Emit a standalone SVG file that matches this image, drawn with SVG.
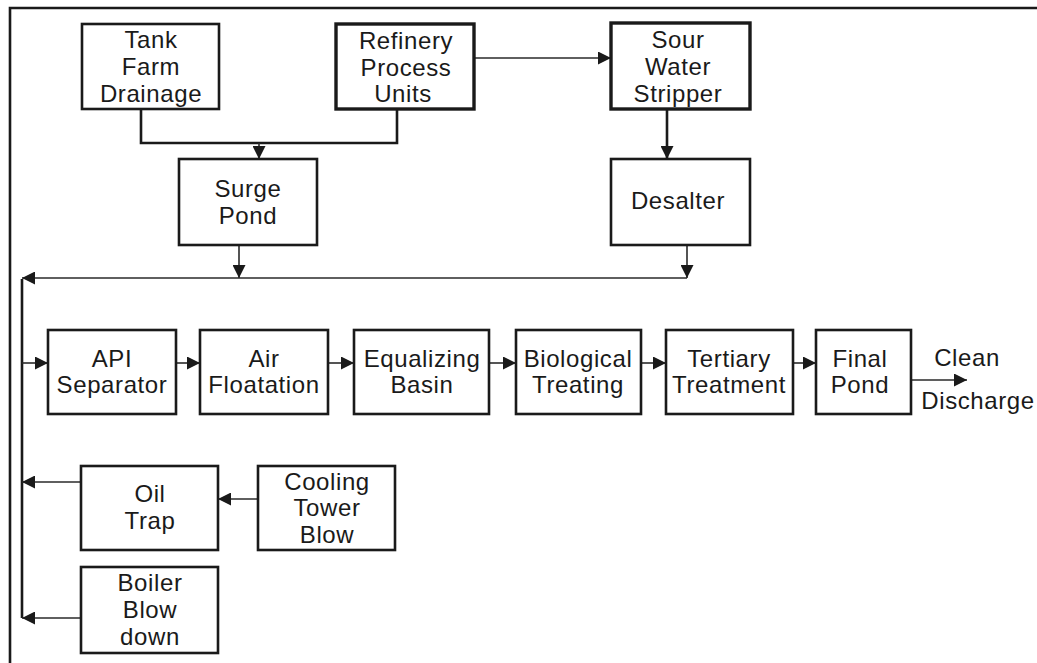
<svg xmlns="http://www.w3.org/2000/svg" width="1037" height="663" viewBox="0 0 1037 663">
<defs>
<style>
.box{fill:#fff;stroke:#1a1a1a;stroke-width:2.6}
.thick{stroke-width:3.4}
.t{font-family:"Liberation Sans",Arial,sans-serif;font-size:24px;letter-spacing:0.6px;fill:#1a1a1a;text-anchor:middle}
.c{fill:none;stroke:#2a2a2a;stroke-width:1.6}
.cb{fill:none;stroke:#1a1a1a;stroke-width:2.6}
</style>
<marker id="ah" viewBox="0 0 10 10" refX="10" refY="5" markerWidth="13" markerHeight="13" markerUnits="userSpaceOnUse" orient="auto">
<path d="M0,0 L10,5 L0,10 Z" fill="#1a1a1a"/>
</marker>
</defs>
<rect width="1037" height="663" fill="#fff"/>
<g id="frame">
<path d="M10,663 L10,8 L1037,8" fill="none" stroke="#1a1a1a" stroke-width="2.6"/>
</g>
<g id="connectors">
<path class="cb" d="M141,109 V143 H397 V109"/>
<path class="c" d="M259,143 V159" marker-end="url(#ah)"/>
<path class="c" d="M474,58 H611" marker-end="url(#ah)"/>
<path class="cb" d="M667,109 V159" marker-end="url(#ah)"/>
<path class="c" d="M239,245 V278" marker-end="url(#ah)"/>
<path class="c" d="M687,245 V278" marker-end="url(#ah)"/>
<path class="c" d="M687,278 H22" marker-end="url(#ah)"/>
<path class="cb" d="M22,279 V618"/>
<path class="c" d="M22,363 H48" marker-end="url(#ah)"/>
<path class="c" d="M176,363 H200" marker-end="url(#ah)"/>
<path class="c" d="M328,363 H354" marker-end="url(#ah)"/>
<path class="c" d="M489,363 H516" marker-end="url(#ah)"/>
<path class="c" d="M641,363 H666" marker-end="url(#ah)"/>
<path class="c" d="M793,363 H816" marker-end="url(#ah)"/>
<path class="c" d="M911,380 H967" marker-end="url(#ah)"/>
<path class="c" d="M258,499 H218" marker-end="url(#ah)"/>
<path class="c" d="M81,482 H22" marker-end="url(#ah)"/>
<path class="c" d="M81,618 H22" marker-end="url(#ah)"/>
</g>
<g id="tank-farm">
<rect class="box" x="82" y="24" width="137" height="85"/>
<text class="t" x="151" y="48">Tank</text>
<text class="t" x="151" y="75">Farm</text>
<text class="t" x="151" y="102">Drainage</text>
</g>
<g id="refinery">
<rect class="box thick" x="336" y="24" width="138" height="85"/>
<text class="t" x="406" y="49">Refinery</text>
<text class="t" x="406" y="76">Process</text>
<text class="t" x="403" y="102">Units</text>
</g>
<g id="sour-water">
<rect class="box thick" x="611" y="23" width="139" height="86"/>
<text class="t" x="678" y="48">Sour</text>
<text class="t" x="678" y="75">Water</text>
<text class="t" x="678" y="102">Stripper</text>
</g>
<g id="surge-pond">
<rect class="box" x="179" y="159" width="138" height="86"/>
<text class="t" x="248" y="197">Surge</text>
<text class="t" x="248" y="224">Pond</text>
</g>
<g id="desalter">
<rect class="box" x="611" y="159" width="139" height="86"/>
<text class="t" x="678" y="209">Desalter</text>
</g>
<g id="api">
<rect class="box" x="48" y="330" width="128" height="84"/>
<text class="t" x="112" y="367">API</text>
<text class="t" x="112" y="393">Separator</text>
</g>
<g id="air">
<rect class="box" x="200" y="330" width="128" height="84"/>
<text class="t" x="264" y="367">Air</text>
<text class="t" x="264" y="393">Floatation</text>
</g>
<g id="equalizing">
<rect class="box" x="354" y="330" width="135" height="84"/>
<text class="t" x="422" y="367">Equalizing</text>
<text class="t" x="422" y="393">Basin</text>
</g>
<g id="biological">
<rect class="box" x="516" y="330" width="125" height="84"/>
<text class="t" x="578" y="367">Biological</text>
<text class="t" x="578" y="393">Treating</text>
</g>
<g id="tertiary">
<rect class="box" x="666" y="330" width="127" height="84"/>
<text class="t" x="729" y="367">Tertiary</text>
<text class="t" x="729" y="393">Treatment</text>
</g>
<g id="final-pond">
<rect class="box" x="816" y="330" width="95" height="84"/>
<text class="t" x="860" y="367">Final</text>
<text class="t" x="860" y="393">Pond</text>
</g>
<g id="discharge">
<text class="t" x="967" y="366">Clean</text>
<text class="t" x="978" y="409">Discharge</text>
</g>
<g id="oil-trap">
<rect class="box" x="81" y="466" width="137" height="84"/>
<text class="t" x="150" y="502">Oil</text>
<text class="t" x="150" y="529">Trap</text>
</g>
<g id="cooling-tower">
<rect class="box" x="258" y="466" width="137" height="84"/>
<text class="t" x="327" y="490">Cooling</text>
<text class="t" x="327" y="516">Tower</text>
<text class="t" x="327" y="543">Blow</text>
</g>
<g id="boiler">
<rect class="box" x="81" y="567" width="137" height="86"/>
<text class="t" x="150" y="591">Boiler</text>
<text class="t" x="150" y="618">Blow</text>
<text class="t" x="150" y="645">down</text>
</g>
</svg>
